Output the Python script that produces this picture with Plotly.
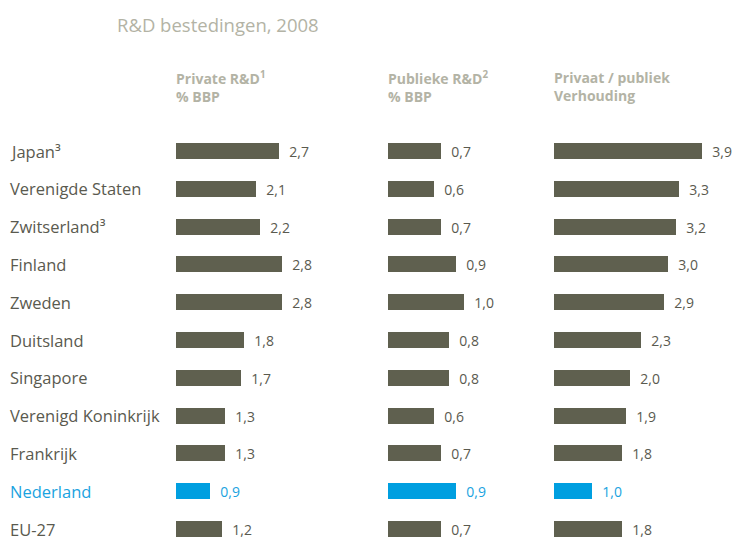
import plotly.graph_objects as go
from plotly.subplots import make_subplots

# R&D spending 2008
countries = ["Japan³", "Verenigde Staten", "Zwitserland³", "Finland", "Zweden",
             "Duitsland", "Singapore", "Verenigd Koninkrijk", "Frankrijk",
             "Nederland", "EU-27"]
private_rd = [2.7, 2.1, 2.2, 2.8, 2.8, 1.8, 1.7, 1.3, 1.3, 0.9, 1.2]
public_rd = [0.7, 0.6, 0.7, 0.9, 1.0, 0.8, 0.8, 0.6, 0.7, 0.9, 0.7]
ratio = [3.9, 3.3, 3.2, 3.0, 2.9, 2.3, 2.0, 1.9, 1.8, 1.0, 1.8]
headers = ["<b>Private R&D<sup>1</sup><br>% BBP</b>",
           "<b>Publieke R&D<sup>2</sup><br>% BBP</b>",
           "<b>Privaat / publiek<br>Verhouding</b>"]
highlight = "Nederland"

W, H = 734, 538
DARK = "#5f604f"
BLUE = "#009fe0"
TXT = "#5a5a4f"
LIGHT = "#b3b3a5"
FONT = "Open Sans"

bar_cols = [BLUE if c == highlight else DARK for c in countries]
txt_cols = ["#1aa3e0" if c == highlight else TXT for c in countries]

# pixel layout of the three panels: (left px, right px, px per unit)
panels = [(176, 340, 38.0), (388, 545, 76.0), (554, 734, 38.0)]
series = [private_rd, public_rd, ratio]

fig = make_subplots(rows=1, cols=3, shared_yaxes=True, horizontal_spacing=0)

for i, (vals, (x0, x1, ppu)) in enumerate(zip(series, panels)):
    fig.add_trace(go.Bar(
        x=vals, y=countries, orientation="h",
        marker=dict(color=bar_cols, line=dict(width=0)),
        width=16 / 37.8,
        text=vals, texttemplate="  %{x:.1f}", textposition="outside",
        textfont=dict(family=FONT, size=14, color=txt_cols),
        constraintext="none", cliponaxis=False,
        hoverinfo="skip", showlegend=False,
    ), row=1, col=i + 1)
    ax = "xaxis" if i == 0 else f"xaxis{i + 1}"
    fig.layout[ax].update(domain=[x0 / W, x1 / W], range=[0, (x1 - x0) / ppu],
                          visible=False, fixedrange=True)
    fig.add_annotation(text=headers[i], xref="paper", yref="paper",
                       x=(x0 - 2) / W, y=1 - 66 / H, xanchor="left", yanchor="top",
                       align="left", showarrow=False,
                       font=dict(family=FONT, size=14, color=LIGHT))

# first row centre at 151 px, rows 37.8 px apart
top = 151 / 37.8
fig.update_yaxes(type="category", categoryorder="array", categoryarray=countries,
                 range=[(H - 151) / 37.8, -top], visible=False, fixedrange=True)

for c, col in zip(countries, txt_cols):
    fig.add_annotation(text=c, xref="paper", yref="y", x=8 / W, y=c,
                       xanchor="left", yanchor="middle", showarrow=False,
                       font=dict(family=FONT, size=16.5, color=col))

fig.add_annotation(text="R&D bestedingen, 2008", xref="paper", yref="paper",
                   x=115 / W, y=1 - 24 / H, xanchor="left", yanchor="middle",
                   showarrow=False, font=dict(family=FONT, size=18.5, color=LIGHT))

fig.update_layout(
    width=W, height=H, margin=dict(l=0, r=0, t=0, b=0),
    paper_bgcolor="white", plot_bgcolor="white",
    separators=",.", bargap=0,
)

# drop the default page margin so the figure sits at the window's corner
fig.write_html("out.html", config={"displayModeBar": False},
               post_script="document.body.style.margin='0';")
